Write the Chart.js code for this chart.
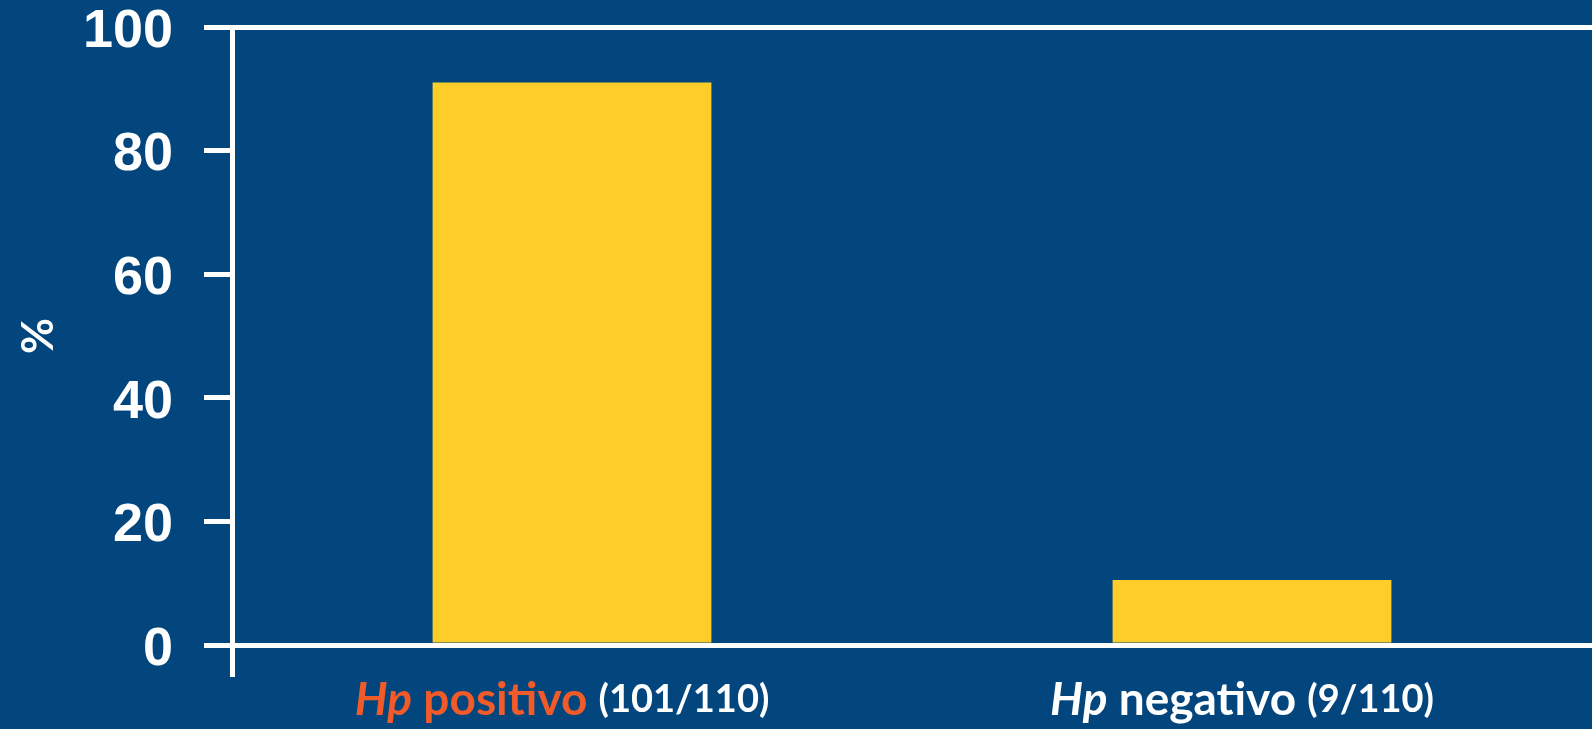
<!DOCTYPE html>
<html lang="es">
<head>
<meta charset="utf-8" />
<title>Hp positivo / negativo</title>
<script src="https://cdn.jsdelivr.net/npm/chart.js@4.4.1/dist/chart.umd.min.js"></script>
<style>
  html, body { margin: 0; padding: 0; background: #03467e; }
  #wrap { width: 1592px; height: 729px; position: relative; }
</style>
</head>
<body>
<div id="wrap"><canvas id="bars"></canvas></div>
<script>
// data
var categoryNames = ['Hp positivo', 'Hp negativo'];
var counts = ['(101/110)', '(9/110)'];
var percentages = [91, 10.5];
var yTicks = [0, 20, 40, 60, 80, 100];

var WHITE = '#ffffff';
var labelColors = ['#f15a29', WHITE];

// x labels have mixed styles (italic genus, coloured word), so draw them by hand
var xLabelPlugin = {
  id: 'xLabels',
  afterDraw: function(chart) {
    var ctx = chart.ctx, xs = chart.scales.x;
    ctx.save();
    ctx.textBaseline = 'middle';
    ctx.textAlign = 'left';
    categoryNames.forEach(function(name, i) {
      var words = name.split(' ');
      var parts = [
        { t: words[0], f: 'italic bold 46px Lato', c: labelColors[i] },
        { t: ' ' + words.slice(1).join(' ') + ' ', f: 'bold 46px Lato', c: labelColors[i] },
        { t: counts[i], f: 'bold 38px Lato', c: WHITE }
      ];
      var total = 0;
      parts.forEach(function(p) { ctx.font = p.f; p.w = ctx.measureText(p.t).width; total += p.w; });
      var x = xs.getPixelForValue(i) - total / 2 - 10;
      parts.forEach(function(p) {
        ctx.font = p.f;
        ctx.fillStyle = p.c;
        ctx.fillText(p.t, x, 700);
        x += p.w;
      });
    });
    ctx.restore();
  }
};

var barsChart = new Chart(document.getElementById('bars'), {
  type: 'bar',
  data: {
    labels: categoryNames,
    datasets: [{
      data: percentages,
      backgroundColor: '#fdcd29',
      borderWidth: 0,
      categoryPercentage: 1,
      barPercentage: 0.41
    }]
  },
  options: {
    responsive: true,
    maintainAspectRatio: false,
    animation: false,
    layout: { padding: { top: 27, right: 0, bottom: 0, left: 0 } },
    plugins: { legend: { display: false }, tooltip: { enabled: false } },
    scales: {
      x: {
        afterFit: function(scale) {
          scale.height = 84;
          scale.paddingLeft = 0;
          scale.paddingRight = 0;
        },
        ticks: { display: false },
        border: { display: false },
        grid: {
          offset: true,
          drawOnChartArea: false,
          tickLength: 32,
          lineWidth: 5,
          tickColor: function(c) { return c.index === 0 ? WHITE : 'transparent'; },
          color: function(c) { return c.index === 0 ? WHITE : 'transparent'; }
        }
      },
      y: {
        min: 0,
        max: 100,
        afterFit: function(scale) {
          scale.width = 232;
          scale.paddingTop = 0;
          scale.paddingBottom = 0;
        },
        afterBuildTicks: function(scale) {
          scale.ticks = yTicks.map(function(v) { return { value: v }; });
        },
        border: { display: true, color: WHITE, width: 5 },
        grid: {
          drawOnChartArea: true,
          tickLength: 28,
          lineWidth: 5,
          tickColor: WHITE,
          color: function(c) { return (c.tick && (c.tick.value === 100 || c.tick.value === 0)) ? WHITE : 'transparent'; }
        },
        ticks: {
          color: WHITE,
          padding: 31,
          labelOffset: 5,
          font: { family: '"Liberation Sans Narrow", "Liberation Sans", sans-serif', weight: 'bold', size: 54, lineHeight: 1 }
        },
        title: {
          display: true,
          text: '%',
          color: WHITE,
          padding: { top: 12, bottom: 0 },
          font: { family: 'Lato, sans-serif', weight: 'bold', size: 44 }
        }
      }
    }
  },
  plugins: [xLabelPlugin]
});
</script>
</body>
</html>
